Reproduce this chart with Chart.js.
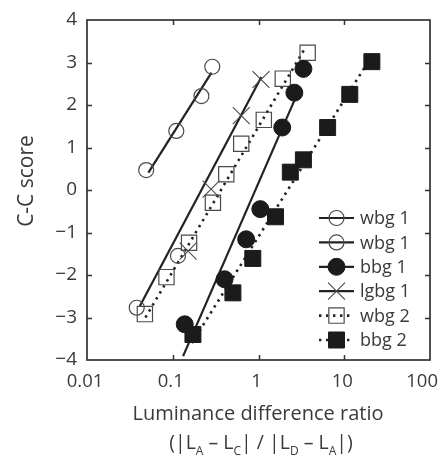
<!DOCTYPE html>
<html><head><meta charset="utf-8">
<script src="https://cdn.jsdelivr.net/npm/chart.js@4.4.1/dist/chart.umd.min.js"></script>
<style>html,body{margin:0;padding:0;background:#fff}#wrap{width:444px;height:458px;position:relative}</style>
</head><body><div id="wrap"><canvas id="c"></canvas></div>
<script>
// ---- data ----
const seriesLabels = ['wbg 1', 'wbg 1', 'bbg 1', 'lgbg 1', 'wbg 2', 'bbg 2'];

const wbg1aX = [0.049, 0.110, 0.216, 0.289];
const wbg1aY = [0.47, 1.39, 2.21, 2.90];

const wbg1bX = [0.038, 0.115];
const wbg1bY = [-2.77, -1.55];

const bbg1X = [0.138, 0.402, 0.718, 1.05, 1.89, 2.62, 3.34];
const bbg1Y = [-3.16, -2.10, -1.16, -0.45, 1.47, 2.29, 2.85];

const lgbg1X = [0.151, 0.28, 0.63, 1.07];
const lgbg1Y = [-1.44, 0.02, 1.75, 2.60];

const wbg2X = [0.0473, 0.0845, 0.155, 0.294, 0.421, 0.629, 1.153, 1.92, 3.74];
const wbg2Y = [-2.92, -2.05, -1.24, -0.30, 0.37, 1.09, 1.65, 2.62, 3.23];

const bbg2X = [0.172, 0.503, 0.858, 1.58, 2.35, 3.34, 6.4, 11.6, 21.0];
const bbg2Y = [-3.40, -2.42, -1.61, -0.63, 0.42, 0.71, 1.47, 2.25, 3.02];

// fitted lines (end points)
const fitWbg1aX = [0.052, 0.283];
const fitWbg1aY = [0.41, 2.76];
const fitLowerX = [0.0414, 1.08];
const fitLowerY = [-2.73, 2.66];
const fitBbg1X = [0.132, 3.0];
const fitBbg1Y = [-3.91, 2.38];
const fitWbg2X = [0.048, 3.52];
const fitWbg2Y = [-3.0, 3.35];
const fitBbg2X = [0.167, 17.1];
const fitBbg2Y = [-3.6, 2.87];

const xTickValues = [0.01, 0.1, 1, 10, 100];
const xTickLabels = ['0.01', '0.1', '1', '10', '100'];
const yTickValues = [-4, -3, -2, -1, 0, 1, 2, 3, 4];

const xTitle = 'Luminance difference ratio';
const xTitle2 = [['(|L', 0], ['A', 1], [' \u2013 L', 0], ['C', 1], ['| / |L', 0], ['D', 1], [' \u2013 L', 0], ['A', 1], ['|)', 0]];
const yTitle = 'C-C score';

// ---- helpers ----
const pts = (xs, ys) => xs.map((x, i) => ({x: x, y: ys[i]}));
const FONT = '"Open Sans", "Noto Sans", sans-serif';
const INK = '#222';
const TXT = '#3a3a3a';
const DOT = [2.4, 4.6];

function fitLine(xs, ys, dash) {
  return {type: 'scatter', data: pts(xs, ys), showLine: true, pointRadius: 0,
    borderColor: INK, borderWidth: dash ? 2.6 : 2.2, borderDash: dash || [],
    order: 10, isFit: true};
}
function markers(label, xs, ys, style, radius, filled, bw, dash) {
  return {type: 'scatter', label: label, data: pts(xs, ys), pointStyle: style,
    pointRadius: radius, pointBorderWidth: bw,
    pointBackgroundColor: filled ? '#1b1b1b' : 'rgba(0,0,0,0)',
    pointBorderColor: filled ? '#1b1b1b' : '#4a4a4a',
    borderColor: filled ? '#1b1b1b' : '#4a4a4a', backgroundColor: filled ? '#1b1b1b' : 'rgba(0,0,0,0)',
    order: 1, legendDash: dash};
}

const datasets = [
  markers(seriesLabels[0], wbg1aX, wbg1aY, 'circle', 7.5, false, 1.2, null),
  markers(seriesLabels[1], wbg1bX, wbg1bY, 'circle', 7.5, false, 1.2, null),
  markers(seriesLabels[2], bbg1X, bbg1Y, 'circle', 8.5, true, 1, null),
  markers(seriesLabels[3], lgbg1X, lgbg1Y, 'crossRot', 12, false, 1.1, null),
  markers(seriesLabels[4], wbg2X, wbg2Y, 'rect', 10.8, false, 1.2, DOT),
  markers(seriesLabels[5], bbg2X, bbg2Y, 'rect', 11.3, true, 1, DOT),
  fitLine(fitWbg1aX, fitWbg1aY, null),
  fitLine(fitLowerX, fitLowerY, null),
  fitLine(fitBbg1X, fitBbg1Y, null),
  fitLine(fitWbg2X, fitWbg2Y, DOT),
  fitLine(fitBbg2X, fitBbg2Y, DOT)
];

function drawMarker(ctx, ds, x, y) {
  const r = ds.pointRadius;
  ctx.save();
  ctx.lineWidth = ds.pointBorderWidth;
  ctx.strokeStyle = ds.pointBorderColor;
  ctx.fillStyle = ds.pointBackgroundColor;
  ctx.setLineDash([]);
  ctx.beginPath();
  if (ds.pointStyle === 'circle') {
    ctx.arc(x, y, r, 0, Math.PI * 2);
    ctx.fill(); ctx.stroke();
  } else if (ds.pointStyle === 'rect') {
    const s = r * Math.SQRT1_2;
    ctx.rect(x - s, y - s, 2 * s, 2 * s);
    ctx.fill(); ctx.stroke();
  } else {
    const o = r * Math.SQRT1_2;
    ctx.moveTo(x - o, y - o); ctx.lineTo(x + o, y + o);
    ctx.moveTo(x - o, y + o); ctx.lineTo(x + o, y - o);
    ctx.stroke();
  }
  ctx.restore();
}

const decor = {
  id: 'decor',
  afterDatasetsDraw(chart) {
    const ctx = chart.ctx, a = chart.chartArea;
    const xs = chart.scales.x, ys = chart.scales.y;
    ctx.save();
    // frame
    ctx.strokeStyle = '#333'; ctx.lineWidth = 1.7;
    ctx.strokeRect(a.left, a.top, a.right - a.left, a.bottom - a.top);
    // inward tick marks
    ctx.lineWidth = 1.5;
    ctx.beginPath();
    xTickValues.slice(1, -1).forEach(v => {
      const px = Math.round(xs.getPixelForValue(v)) + 0.5;
      ctx.moveTo(px, a.bottom); ctx.lineTo(px, a.bottom - 5);
      ctx.moveTo(px, a.top); ctx.lineTo(px, a.top + 5);
    });
    yTickValues.slice(1, -1).forEach(v => {
      const py = Math.round(ys.getPixelForValue(v)) + 0.5;
      ctx.moveTo(a.left, py); ctx.lineTo(a.left + 5, py);
      ctx.moveTo(a.right, py); ctx.lineTo(a.right - 5, py);
    });
    ctx.stroke();

    // x tick labels (kept inside the canvas like the reference)
    ctx.fillStyle = TXT;
    ctx.font = '18.5px ' + FONT;
    ctx.textAlign = 'center';
    ctx.textBaseline = 'middle';
    xTickValues.forEach((v, i) => {
      const t = xTickLabels[i];
      const w = ctx.measureText(t).width;
      let cx = xs.getPixelForValue(v) - 2;
      cx = Math.min(cx, chart.width - 6 - w / 2);
      ctx.fillText(t, cx, a.bottom + 22);
    });

    // legend
    const markerSets = chart.data.datasets.filter(d => !d.isFit);
    ctx.font = '18px ' + FONT;
    ctx.fillStyle = TXT;
    ctx.textBaseline = 'middle';
    ctx.textAlign = 'left';
    markerSets.forEach((ds, i) => {
      const y = 218 + i * 24.4;
      ctx.save();
      ctx.strokeStyle = INK;
      ctx.lineWidth = ds.legendDash ? 2.6 : 2.2;
      ctx.setLineDash(ds.legendDash || []);
      ctx.beginPath();
      ctx.moveTo(319, y); ctx.lineTo(354, y);
      ctx.stroke();
      ctx.restore();
      drawMarker(ctx, ds, 336.5, y);
      ctx.fillText(ds.label, 360, y + 1);
    });

    // x title
    ctx.fillStyle = TXT;
    ctx.textAlign = 'center';
    ctx.textBaseline = 'alphabetic';
    ctx.font = '20px ' + FONT;
    ctx.fillText(xTitle, 258, 420);
    // second line with subscripts
    const big = '19.5px ' + FONT, small = '12px ' + FONT;
    let total = 0;
    xTitle2.forEach(([t, sub]) => { ctx.font = sub ? small : big; total += ctx.measureText(t).width; });
    let cx = 261 - total / 2;
    ctx.textAlign = 'left';
    xTitle2.forEach(([t, sub]) => {
      ctx.font = sub ? small : big;
      ctx.fillText(t, cx, sub ? 455 : 449);
      cx += ctx.measureText(t).width;
    });
    // y title
    ctx.translate(27, 181);
    ctx.rotate(-Math.PI / 2);
    ctx.textAlign = 'center';
    ctx.textBaseline = 'middle';
    ctx.font = '21px ' + FONT;
    ctx.fillText(yTitle, 0, 0);
    ctx.restore();
  }
};

new Chart(document.getElementById('c'), {
  type: 'scatter',
  data: {datasets: datasets},
  plugins: [decor],
  options: {
    responsive: true, maintainAspectRatio: false, animation: false, events: [],
    layout: {padding: {top: 20, right: 14, left: 0, bottom: 0}},
    plugins: {legend: {display: false}, tooltip: {enabled: false}},
    scales: {
      x: {
        type: 'logarithmic', min: 0.01, max: 100,
        afterBuildTicks: s => { s.ticks = xTickValues.map(v => ({value: v})); },
        afterFit: s => { s.height = 98; s.paddingLeft = 0; s.paddingRight = 0; },
        grid: {display: false, drawTicks: false},
        border: {display: false},
        ticks: {display: false}
      },
      y: {
        min: -4, max: 4,
        afterBuildTicks: s => { s.ticks = yTickValues.map(v => ({value: v})); },
        afterFit: s => { s.width = 87; s.paddingTop = 0; s.paddingBottom = 0; },
        grid: {display: false, drawTicks: false},
        border: {display: false},
        ticks: {padding: 10, color: TXT, font: {family: FONT, size: 19},
          callback: v => (v < 0 ? '\u2212' + Math.abs(v) : String(v))}
      }
    }
  }
});
</script></body></html>
